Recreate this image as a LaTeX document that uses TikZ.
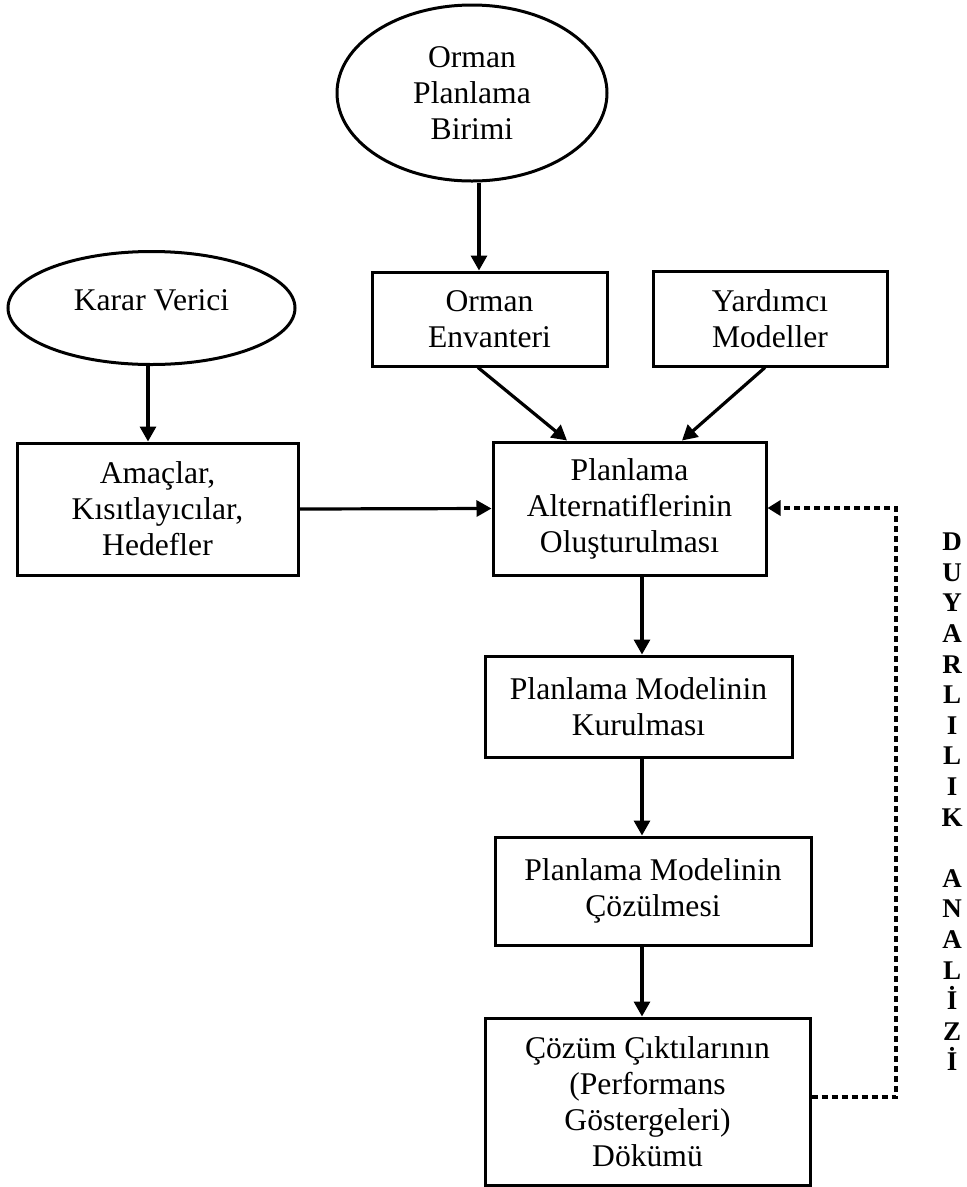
\documentclass[tikz,border=0pt]{standalone}
\usepackage{fontspec}
\setmainfont{Liberation Serif}
\usetikzlibrary{arrows.meta,shapes.geometric}
\begin{document}
\begin{tikzpicture}[x=1pt,y=-1pt,
  box/.style={draw,line width=3pt,rectangle,inner sep=0pt,align=center,
    font=\fontsize{31.6}{36}\selectfont},
  oval/.style={draw,line width=3pt,ellipse,inner sep=0pt,align=center,
    font=\fontsize{31.6}{36}\selectfont},
  link/.style={line width=3.2pt,-{Triangle[length=15pt,width=16pt]}},
  feedback/.style={line width=4pt,dash pattern=on 6pt off 4pt,
    -{Triangle[length=13pt,width=15pt]}},
]
\useasboundingbox (0,0) rectangle (967,1187);

% sources
\node[oval,minimum width=270pt,minimum height=176pt] (birim) at (472,93)
  {Orman\\Planlama\\Birimi};
\node[oval,minimum width=287pt,minimum height=113pt,text depth=16pt] (karar) at (151.5,308)
  {Karar Verici};

% boxes
\node[box,minimum width=235pt,minimum height=94pt] (envanter) at (489.5,319)
  {Orman\\Envanteri};
\node[box,minimum width=234pt,minimum height=95pt] (yardimci) at (770,318.5)
  {Yardımcı\\Modeller};
\node[box,minimum width=281pt,minimum height=132pt] (amac) at (157.5,509)
  {Amaçlar,\\Kısıtlayıcılar,\\Hedefler};
\node[box,minimum width=273pt,minimum height=133pt] (alt) at (629.5,508.5)
  {Planlama\\Alternatiflerinin\\Oluşturulması};
\node[box,minimum width=307pt,minimum height=101pt] (kur) at (638.5,706.5)
  {Planlama Modelinin\\Kurulması};
\node[box,minimum width=316pt,minimum height=108pt] (coz) at (653,891)
  {Planlama Modelinin\\Çözülmesi};
\node[box,minimum width=325pt,minimum height=167pt] (cikti) at (647.5,1101.5)
  {Çözüm Çıktılarının\\(Performans\\Göstergeleri)\\Dökümü};

% vertical label
\node[font=\bfseries\fontsize{27}{30.6}\selectfont,align=center,inner sep=0pt]
  (duyarlilik) at (952,802)
  {D\\U\\Y\\A\\R\\L\\I\\L\\I\\K\\\phantom{K}\\A\\N\\A\\L\\İ\\Z\\İ};

% connector guide positions
\coordinate (xbirim) at (479,0);
\coordinate (xkarar) at (148,0);
\coordinate (xenvout) at (478,0);
\coordinate (xenvin) at (567,0);
\coordinate (xyardout) at (765,0);
\coordinate (xyardin) at (682,0);
\coordinate (spine) at (642,0);
\coordinate (fbbot) at (896,1097);
\coordinate (fbtop) at (896,508);

% connectors
\draw[link] (birim.south -| xbirim) -- (envanter.north -| xbirim);
\draw[link] (karar.south -| xkarar) -- (amac.north -| xkarar);
\draw[link] (envanter.south -| xenvout) -- (alt.north -| xenvin);
\draw[link] (yardimci.south -| xyardout) -- (alt.north -| xyardin);
\draw[link] (amac.east) -- (alt.west);
\draw[link] (alt.south -| spine) -- (kur.north -| spine);
\draw[link] (kur.south -| spine) -- (coz.north -| spine);
\draw[link] (coz.south -| spine) -- (cikti.north -| spine);

% feedback loop
\draw[feedback] (cikti.east |- fbbot) -- (fbbot) -- (fbtop) -- (alt.east |- fbtop);
\end{tikzpicture}
\end{document}
